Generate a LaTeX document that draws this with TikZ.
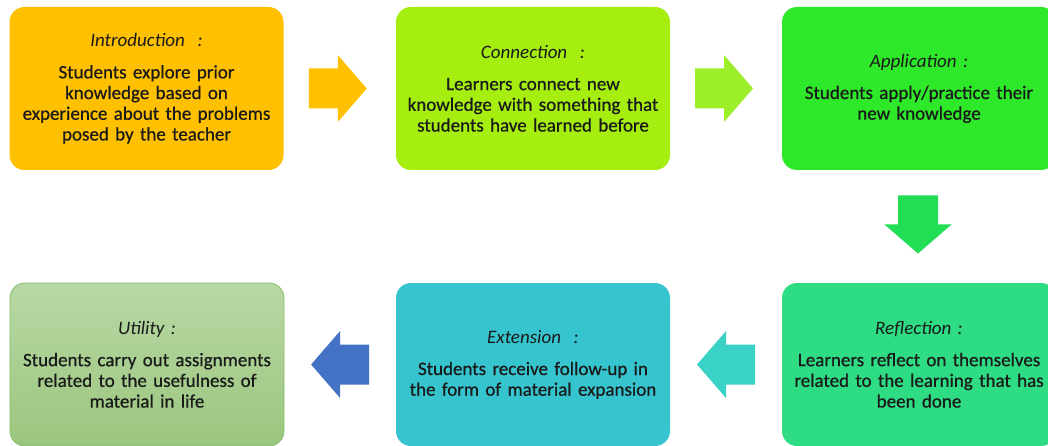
\documentclass[tikz,border=0pt]{standalone}
\usepackage{fontspec}
\setmainfont{Carlito}
% slightly heavier face for the stage descriptions
\newfontface\bodyface{Carlito}[FakeBold=0.6]
\usetikzlibrary{calc}

\definecolor{txt}{HTML}{1A1A1A}
\definecolor{introfill}{HTML}{FFC000}
\definecolor{connfill}{HTML}{A6EE10}
\definecolor{connarrow}{HTML}{9CEE28}
\definecolor{applfill}{HTML}{2EE82A}
\definecolor{applarrow}{HTML}{22DE55}
\definecolor{reflfill}{HTML}{2EDC84}
\definecolor{reflarrow}{HTML}{3AD2C6}
\definecolor{extfill}{HTML}{36C5CF}
\definecolor{extarrow}{HTML}{4472C4}
\definecolor{utiltop}{HTML}{B8D8A5}
\definecolor{utilbot}{HTML}{9BC67E}
\definecolor{utilline}{HTML}{86BC66}

\newcommand{\stagetitle}[1]{{\normalfont\itshape #1}}

\begin{document}
\begin{tikzpicture}[x=1pt,y=-1pt,
  stage/.style={rounded corners=15pt, minimum width=274pt, minimum height=163pt,
    inner sep=0pt, text width=264pt, align=center, text=txt,
    font=\bodyface\fontsize{19}{20.7}\selectfont},
  % block arrow pointing along +x, centred on its placement point
  pics/blockarrow/.style={code={
    \fill[pic actions] (-29,-20) -- (0,-20) -- (0,-33.5) -- (29,0)
      -- (0,33.5) -- (0,20) -- (-29,20) -- cycle;}}
]
\useasboundingbox (0,0) rectangle (1048,446);

% top row
\node[stage, fill=introfill] (intro) at (146.5,88.5)
  {\stagetitle{Introduction\ \ :}\\[11pt]
   Students explore prior\\ knowledge based on\\ experience about the problems\\ posed by the teacher};
\node[stage, fill=connfill] (conn) at (533,88.5)
  {\stagetitle{Connection\ \ :}\\[11pt]
   Learners connect new\\ knowledge with something that\\ students have learned before};
\node[stage, fill=applfill] (appl) at (919,88.5)
  {\stagetitle{Application :}\\[11pt]
   Students apply/practice their\\ new knowledge};

% bottom row
\node[stage, fill=reflfill] (refl) at (919,364.5)
  {\stagetitle{Reflection :}\\[11pt]
   Learners reflect on themselves\\ related to the learning that has\\ been done};
\node[stage, fill=extfill] (ext) at (533,364.5)
  {\stagetitle{Extension\ \ :}\\[11pt]
   Students receive follow-up in\\ the form of material expansion};
\node[stage, top color=utiltop, bottom color=utilbot, draw=utilline, line width=0.8pt] (util) at (147,364.5)
  {\stagetitle{Utility :}\\[11pt]
   Students carry out assignments\\ related to the usefulness of\\ material in life};

% block arrows between the stages
\pic[fill=introfill] at ($(intro.east)!0.5!(conn.west)-(2,0)$) {blockarrow};
\pic[fill=connarrow] at ($(conn.east)!0.5!(appl.west)-(2,0)$) {blockarrow};
\pic[fill=applarrow, rotate=-90] at ($(appl.south)!0.5!(refl.north)-(1,2)$) {blockarrow};
\pic[fill=reflarrow, rotate=180] at ($(ext.east)!0.5!(refl.west)$) {blockarrow};
\pic[fill=extarrow, rotate=180] at ($(util.east)!0.5!(ext.west)$) {blockarrow};
\end{tikzpicture}
\end{document}
